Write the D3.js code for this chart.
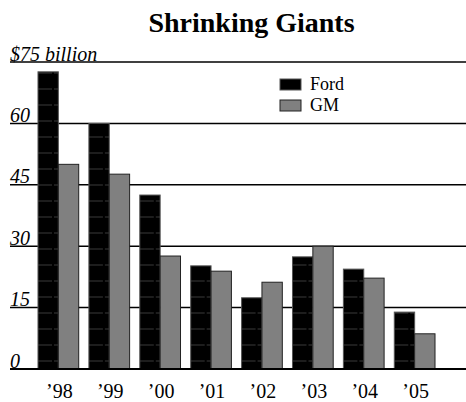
<!DOCTYPE html>
<html><head><meta charset="utf-8">
<script src="https://cdn.jsdelivr.net/npm/d3@7"></script>
<style>body{margin:0;background:#fff}svg{display:block}</style>
</head><body>
<svg id="c" width="466" height="402"></svg>
<script>
const years = ["’98","’99","’00","’01","’02","’03","’04","’05"];
const series = ["Ford","GM"];
const ford = [72.6, 60.0, 42.5, 25.2, 17.4, 27.4, 24.4, 13.9];
const gm   = [50.0, 47.6, 27.6, 23.9, 21.2, 30.0, 22.2, 8.6];
const yTicks = [0, 15, 30, 45, 60, 75];
const yTickLabels = ["0","15","30","45","60","$75 billion"];
const colors = {Ford:"#000000", GM:"#808080"};

const svg = d3.select("#c");
const serif = "'Liberation Serif','Times New Roman',serif";

const y = d3.scaleLinear().domain([0,75]).range([369,62]);
const x = d3.scaleBand().domain(years).range([32.9,440.1]).paddingInner(0.2).paddingOuter(0.1);
const xs = d3.scaleBand().domain(series).range([0,x.bandwidth()]);

// pattern for Ford bars
const defs = svg.append("defs");
const pat = defs.append("pattern").attr("id","fordPat").attr("patternUnits","userSpaceOnUse")
  .attr("width",20).attr("height",16).attr("y",y(0));
pat.append("rect").attr("width",20).attr("height",16).attr("fill","#000");
pat.append("line").attr("x1",0).attr("x2",14).attr("y1",8).attr("y2",8).attr("stroke","#3a3a3a").attr("stroke-width",1);
pat.append("line").attr("x1",16).attr("x2",20).attr("y1",8).attr("y2",8).attr("stroke","#3a3a3a").attr("stroke-width",1);

// title
svg.append("text").attr("x",251.5).attr("y",32).attr("text-anchor","middle")
  .attr("font-family",serif).attr("font-weight","bold").attr("font-size",28).text("Shrinking Giants");

// gridlines
svg.append("g").selectAll("line").data(yTicks).join("line")
  .attr("x1",10).attr("x2",466).attr("y1",d=>y(d)).attr("y2",d=>y(d))
  .attr("stroke","#000").attr("stroke-width",d=>d===0?2:1.5);

svg.append("g").selectAll("text").data(yTicks).join("text")
  .attr("x",10).attr("y",d=>y(d)-1.5)
  .attr("font-family",serif).attr("font-style","italic").attr("font-size",20)
  .text((d,i)=>yTickLabels[i]);

// bars
const g = svg.append("g").selectAll("g").data(years).join("g")
  .attr("transform",d=>`translate(${x(d)},0)`);
g.append("rect").attr("x",xs("Ford")).attr("width",xs.bandwidth())
  .attr("y",(d,i)=>y(ford[i])).attr("height",(d,i)=>y(0)-y(ford[i]))
  .attr("fill","url(#fordPat)").attr("stroke","#555").attr("stroke-width",1);
g.append("rect").attr("x",xs("GM")).attr("width",xs.bandwidth())
  .attr("y",(d,i)=>y(gm[i])).attr("height",(d,i)=>y(0)-y(gm[i]))
  .attr("fill",colors.GM).attr("stroke","#222").attr("stroke-width",1);

// baseline on top
svg.append("line").attr("x1",10).attr("x2",466).attr("y1",y(0)).attr("y2",y(0))
  .attr("stroke","#000").attr("stroke-width",2);

// x labels
svg.append("g").selectAll("text").data(years).join("text")
  .attr("x",d=>x(d)+x.bandwidth()/2+1).attr("y",398).attr("text-anchor","middle")
  .attr("font-family",serif).attr("font-size",20).text(d=>d);

// legend
const lg = svg.append("g").selectAll("g").data(series).join("g")
  .attr("transform",(d,i)=>`translate(280,${79+i*21})`);
lg.append("rect").attr("width",21).attr("height",11)
  .attr("fill",d=>colors[d]).attr("stroke",d=>d==="Ford"?"#555":"#222");
lg.append("text").attr("x",30).attr("y",11)
  .attr("font-family",serif).attr("font-size",18).text(d=>d);
</script>
</body></html>
